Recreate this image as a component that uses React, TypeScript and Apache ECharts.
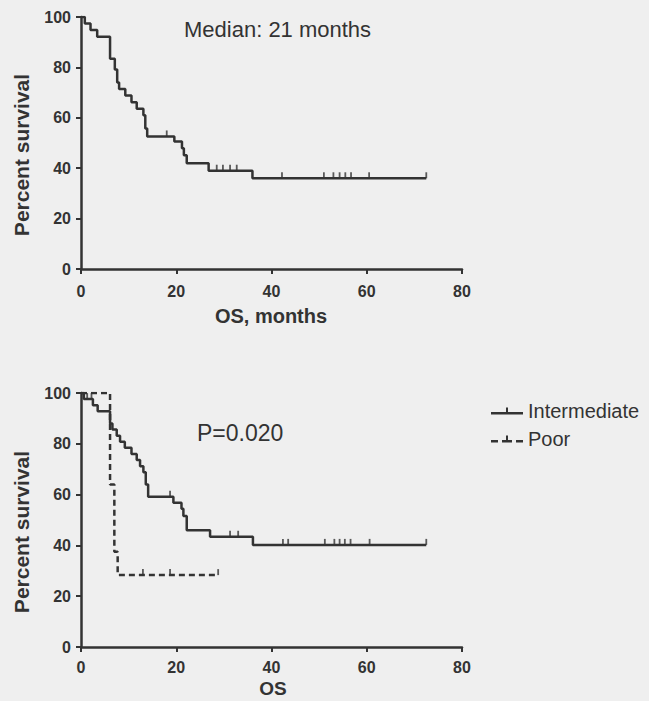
import React, { useEffect, useRef } from "react";
import * as echarts from "echarts";

// Overall survival (top panel)
const allTimes = [0, 0.8, 2.0, 3.4, 6.1, 7.1, 7.6, 8.0, 9.3, 10.6, 11.7, 13.1, 13.5, 13.9, 19.6, 21.2, 21.6, 22.2, 26.8, 36.0, 72.5];
const allSurv = [100, 97.4, 94.8, 92.2, 83.4, 79.2, 74.0, 71.4, 68.8, 66.2, 63.6, 61.0, 55.8, 52.6, 50.6, 47.9, 45.1, 42.0, 39.0, 36.0, 36.0];
const allCensorTimes = [18.0, 28.5, 29.8, 31.3, 32.7, 42.2, 51.0, 53.0, 54.3, 55.5, 56.7, 60.5, 72.5];
const allCensorSurv = [52.6, 39.0, 39.0, 39.0, 39.0, 36.0, 36.0, 36.0, 36.0, 36.0, 36.0, 36.0, 36.0];

// Intermediate group (bottom panel)
const intTimes = [0, 0.6, 2.5, 3.5, 6.1, 6.6, 7.5, 8.2, 9.2, 10.6, 11.7, 12.4, 13.1, 13.6, 14.1, 19.4, 21.1, 21.5, 22.2, 27.1, 36.1, 72.5];
const intSurv = [100, 97.6, 95.2, 92.8, 88.0, 85.6, 83.2, 80.8, 78.4, 76.0, 73.6, 71.2, 68.8, 64.0, 59.2, 56.8, 54.4, 51.6, 46.0, 43.4, 40.2, 40.2];
const intCensorTimes = [1.3, 2.2, 18.7, 31.3, 33.0, 42.4, 43.5, 51.2, 53.2, 54.3, 55.4, 56.6, 60.6, 72.5];
const intCensorSurv = [97.6, 97.6, 59.2, 43.4, 43.4, 40.2, 40.2, 40.2, 40.2, 40.2, 40.2, 40.2, 40.2, 40.2];

// Poor group (bottom panel)
const poorTimes = [0, 6.1, 7.0, 7.7, 28.8];
const poorSurv = [100, 64.0, 37.5, 28.3, 28.3];
const poorCensorTimes = [13.0, 18.7, 28.8];
const poorCensorSurv = [28.3, 28.3, 28.3];

const xTicks = { min: 0, max: 80, interval: 20 };
const yTicks = { min: 0, max: 100, interval: 20 };

const topTitle = "Median: 21 months";
const bottomTitle = "P=0.020";
const yName = "Percent survival";
const topXName = "OS, months";
const bottomXName = "OS";
const groupNames = ["Intermediate", "Poor"];

const zip = (a: number[], b: number[]) => a.map((v, i) => [v, b[i]]);

const INK = "#333333";
const FONT = "'Liberation Sans', Arial, sans-serif";

const solidIcon = "path://M0,4.5L32,4.5L32,7L0,7Z M15,0L17,0L17,5L15,5Z";
const dashedIcon = "path://M0,4.5L7,4.5L7,7L0,7Z M11,4.5L21,4.5L21,7L11,7Z M25,4.5L32,4.5L32,7L25,7Z M15,0L17,0L17,5L15,5Z";

export default function App() {
  const ref = useRef<HTMLDivElement>(null);
  useEffect(() => {
    if (!ref.current) return;
    const chart = echarts.init(ref.current, null, { renderer: "svg" });
    const xAxisBase = (gridIndex: number, labelMargin: number) => ({
      type: "value",
      gridIndex,
      ...xTicks,
      axisLine: { show: true, lineStyle: { color: INK, width: 2.5 } },
      axisTick: { show: true, length: 5, lineStyle: { color: INK, width: 2 } },
      axisLabel: { color: INK, fontWeight: "bold", fontSize: 16, fontFamily: FONT, margin: labelMargin },
      splitLine: { show: false },
    });
    const yAxisBase = (gridIndex: number) => ({
      type: "value",
      gridIndex,
      ...yTicks,
      axisLine: { show: true, lineStyle: { color: INK, width: 2.5 } },
      axisTick: { show: true, length: 5, lineStyle: { color: INK, width: 2 } },
      axisLabel: { color: INK, fontWeight: "bold", fontSize: 16, fontFamily: FONT, margin: 10 },
      splitLine: { show: false },
    });
    const censor = (name: string, t: number[], s: number[], idx: number) => ({
      name,
      type: "scatter",
      xAxisIndex: idx,
      yAxisIndex: idx,
      data: zip(t, s),
      symbol: "rect",
      symbolSize: [1.8, 6],
      symbolOffset: [0, -3],
      itemStyle: { color: INK },
      silent: true,
      z: 3,
    });
    chart.setOption({
      animation: false,
      backgroundColor: "#efefef",
      textStyle: { fontFamily: FONT },
      grid: [
        { left: 81, top: 17, width: 381, height: 252, containLabel: false },
        { left: 81, top: 393, width: 381, height: 254, containLabel: false },
      ],
      xAxis: [xAxisBase(0, 14), xAxisBase(1, 12)],
      yAxis: [yAxisBase(0), yAxisBase(1)],
      legend: {
        data: [
          { name: groupNames[0], icon: solidIcon },
          { name: groupNames[1], icon: dashedIcon },
        ],
        orient: "vertical",
        left: 486,
        top: 396,
        itemWidth: 32,
        itemHeight: 7,
        itemGap: 8,
        textStyle: { color: INK, fontSize: 20, fontFamily: FONT },
      },
      series: [
        {
          name: "All",
          type: "line",
          step: "end",
          xAxisIndex: 0,
          yAxisIndex: 0,
          data: zip(allTimes, allSurv),
          symbol: "none",
          lineStyle: { color: INK, width: 2.5 },
        },
        censor("All censored", allCensorTimes, allCensorSurv, 0),
        {
          name: groupNames[0],
          type: "line",
          step: "end",
          xAxisIndex: 1,
          yAxisIndex: 1,
          data: zip(intTimes, intSurv),
          symbol: "none",
          itemStyle: { color: INK },
          lineStyle: { color: INK, width: 2.5 },
        },
        censor("Intermediate censored", intCensorTimes, intCensorSurv, 1),
        {
          name: groupNames[1],
          type: "line",
          step: "end",
          xAxisIndex: 1,
          yAxisIndex: 1,
          data: zip(poorTimes, poorSurv),
          symbol: "none",
          itemStyle: { color: INK },
          lineStyle: { color: INK, width: 2.5, type: [6, 4] },
        },
        censor("Poor censored", poorCensorTimes, poorCensorSurv, 1),
      ],
      graphic: [
        { type: "text", left: 184, top: 18, style: { text: topTitle, fill: INK, font: `22px ${FONT}` } },
        { type: "text", left: 197, top: 421, style: { text: bottomTitle, fill: INK, font: `23px ${FONT}` } },
        {
          type: "text", x: 21, y: 155, rotation: Math.PI / 2,
          style: { text: yName, fill: INK, font: `bold 21px ${FONT}`, align: "center", verticalAlign: "middle" },
        },
        {
          type: "text", x: 21, y: 532, rotation: Math.PI / 2,
          style: { text: yName, fill: INK, font: `bold 21px ${FONT}`, align: "center", verticalAlign: "middle" },
        },
        {
          type: "text", x: 271, y: 316,
          style: { text: topXName, fill: INK, font: `bold 20px ${FONT}`, align: "center", verticalAlign: "middle" },
        },
        {
          type: "text", x: 273, y: 688,
          style: { text: bottomXName, fill: INK, font: `bold 19px ${FONT}`, align: "center", verticalAlign: "middle" },
        },
      ],
    });
    return () => chart.dispose();
  }, []);
  return (
    <div
      ref={ref}
      style={{ position: "fixed", left: 0, top: 0, width: 649, height: 701, background: "#efefef" }}
    />
  );
}
